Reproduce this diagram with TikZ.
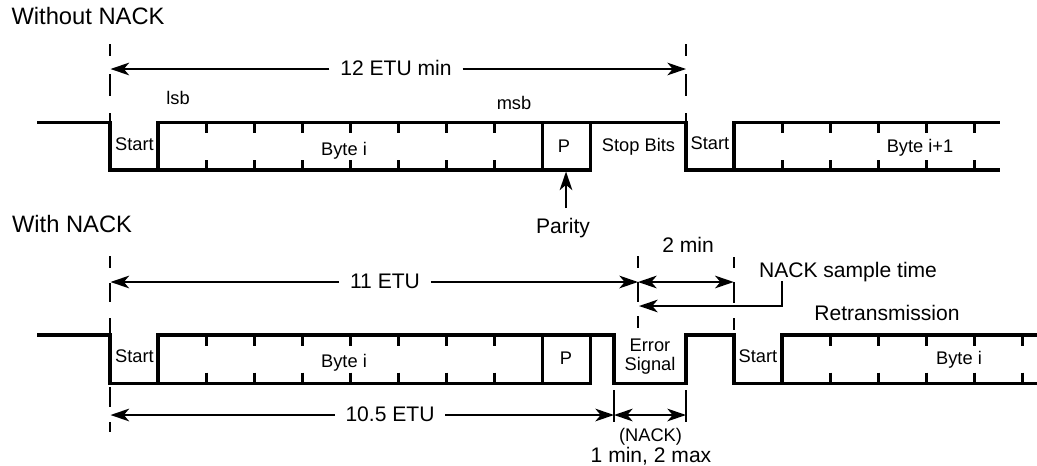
\documentclass[tikz,border=0pt]{standalone}
\usepackage{fontspec}
\setmainfont{Liberation Sans}
\usetikzlibrary{arrows.meta}
\tikzset{
  wave/.style={line width=2.3pt,line join=miter},
  tickmark/.style={line width=2.2pt},
  guide/.style={line width=1.5pt},
  dim/.style={line width=1.5pt,{Stealth[length=14pt,width=9.5pt,inset=4pt]}-{Stealth[length=14pt,width=9.5pt,inset=4pt]}},
  onearrow/.style={line width=1.5pt,-{Stealth[length=14pt,width=9.5pt,inset=4pt]}},
  title/.style={font=\fontsize{17.8pt}{20pt}\selectfont,inner sep=0pt,text height=12.8pt,text depth=0pt},
  big/.style={font=\fontsize{15.8pt}{18pt}\selectfont,inner sep=8pt,text height=11.3pt,text depth=0pt},
  small/.style={font=\fontsize{13.7pt}{16pt}\selectfont,inner sep=0pt,text height=9.8pt,text depth=0pt},
}
\begin{document}
\begin{tikzpicture}[x=0.75pt,y=-0.75pt]
\useasboundingbox (0,0) rectangle (1037,465);

% titles
\node[title] (t1) at (88,16) {Without NACK};
\node[title] (t2) at (72,224) {With NACK};

% --- waveform 1
\draw[wave] (37,122.3) -- (110,122.3) -- (110,170) -- (158,170) -- (158,122.3) -- (686,122.3) -- (686,170) -- (734,170) -- (734,122.3) -- (1000,122.3);
\draw[wave] (158,170) -- (590.5,170) -- (590.5,122.3);
\draw[wave] (542.5,122.3) -- (542.5,170);
\draw[wave] (734,170) -- (1000,170);
\foreach \x in {206.5,254.5,302.5,350.5,398.5,446.5,494.5,782.5,830.5,878.5,926.5,974.5}{
  \draw[tickmark] (\x,122.3) -- (\x,133);
  \draw[tickmark] (\x,160) -- (\x,170);
}

% --- waveform 2
\draw[wave] (37,335) -- (110,335) -- (110,383.3) -- (590.5,383.3) -- (590.5,335);
\draw[wave] (158,383.3) -- (158,335) -- (614,335) -- (614,383.3) -- (686,383.3) -- (686,335) -- (734,335) -- (734,383.3) -- (1037,383.3);
\draw[wave] (782,383.3) -- (782,335) -- (1037,335);
\draw[wave] (542.5,335) -- (542.5,383.3);
\foreach \x in {206.5,254.5,302.5,350.5,398.5,446.5,494.5,830.5,878.5,926.5,974.5,1022.5}{
  \draw[tickmark] (\x,335) -- (\x,346);
  \draw[tickmark] (\x,372.5) -- (\x,383.3);
}

% --- dashed guides
\foreach \x in {110,686}{
  \draw[guide] (\x,44) -- (\x,56) (\x,74) -- (\x,96) (\x,113) -- (\x,122);
}
\draw[guide] (110,256) -- (110,268) (110,283) -- (110,302) (110,318) -- (110,335)
             (110,387) -- (110,407) (110,422) -- (110,432);
\draw[guide] (638,256) -- (638,268) (638,282) -- (638,302) (638,316) -- (638,328);
\draw[guide] (733.7,257) -- (733.7,268) (733.7,282) -- (733.7,303) (733.7,318) -- (733.7,330);
\draw[guide] (614,390) -- (614,422) (686,390) -- (686,422);

% --- anchors for dimension lines
\coordinate (a1l) at (110.5,69);   \coordinate (a1r) at (686,69);
\coordinate (a2l) at (110.5,282);  \coordinate (a2r) at (638,282);
\coordinate (a3l) at (638,282);    \coordinate (a3r) at (733.7,282);
\coordinate (a4l) at (110.5,415);  \coordinate (a4r) at (614,415);
\coordinate (a5l) at (614,415);    \coordinate (a5r) at (686,415);
\coordinate (ntip) at (639,306);   \coordinate (nbend) at (782,306);  \coordinate (ntop) at (782,281);
\coordinate (ptip) at (566,171.5); \coordinate (ptail) at (566,208);

% --- labels
\node[big] (e12) at (396,67.5) {12 ETU min};
\node[big] (e11) at (385,281) {11 ETU};
\node[big] (e105) at (390,414) {10.5 ETU};
\node[big,inner sep=0pt] (min2) at (688,245) {2 min};
\node[big,inner sep=0pt] (nack) at (848,270) {NACK sample time};
\node[big,inner sep=0pt] (retr) at (887,313) {Retransmission};
\node[big,inner sep=0pt] (par) at (563,226) {Parity};
\node[big,inner sep=0pt] (max) at (651,455) {1 min, 2 max};
\node[small] (nk) at (650.5,435) {(NACK)};

\node[small] (lsb) at (178,98) {lsb};
\node[small] (msb) at (514,103) {msb};
\node[small] (st1) at (134.5,143.5) {Start};
\node[small] (b1) at (344,148.5) {Byte i};
\node[small] (p1) at (564,146) {P};
\node[small] (stop) at (638.5,145) {Stop Bits};
\node[small] (st2) at (710,143) {Start};
\node[small] (b2) at (920,146) {Byte i+1};
\node[small] (st3) at (134.5,355.5) {Start};
\node[small] (b3) at (344,361) {Byte i};
\node[small] (p2) at (566,358) {P};
\node[small] (err) at (650,345) {Error};
\node[small] (sig) at (650,364) {Signal};
\node[small] (st4) at (758,356) {Start};
\node[small] (b4) at (959,358) {Byte i};

% --- connectors
\draw[onearrow] (e12.west |- a1l) -- (a1l);
\draw[onearrow] (e12.east |- a1r) -- (a1r);
\draw[onearrow] (e11.west |- a2l) -- (a2l);
\draw[onearrow] (e11.east |- a2r) -- (a2r);
\draw[dim] (a3l) -- (a3r);
\draw[onearrow] (e105.west |- a4l) -- (a4l);
\draw[onearrow] (e105.east |- a4r) -- (a4r);
\draw[dim] (a5l) -- (a5r);
\draw[onearrow] (ntop) -- (nbend) -- (ntip);
\draw[onearrow] (ptail) -- (ptip);
\end{tikzpicture}
\end{document}
